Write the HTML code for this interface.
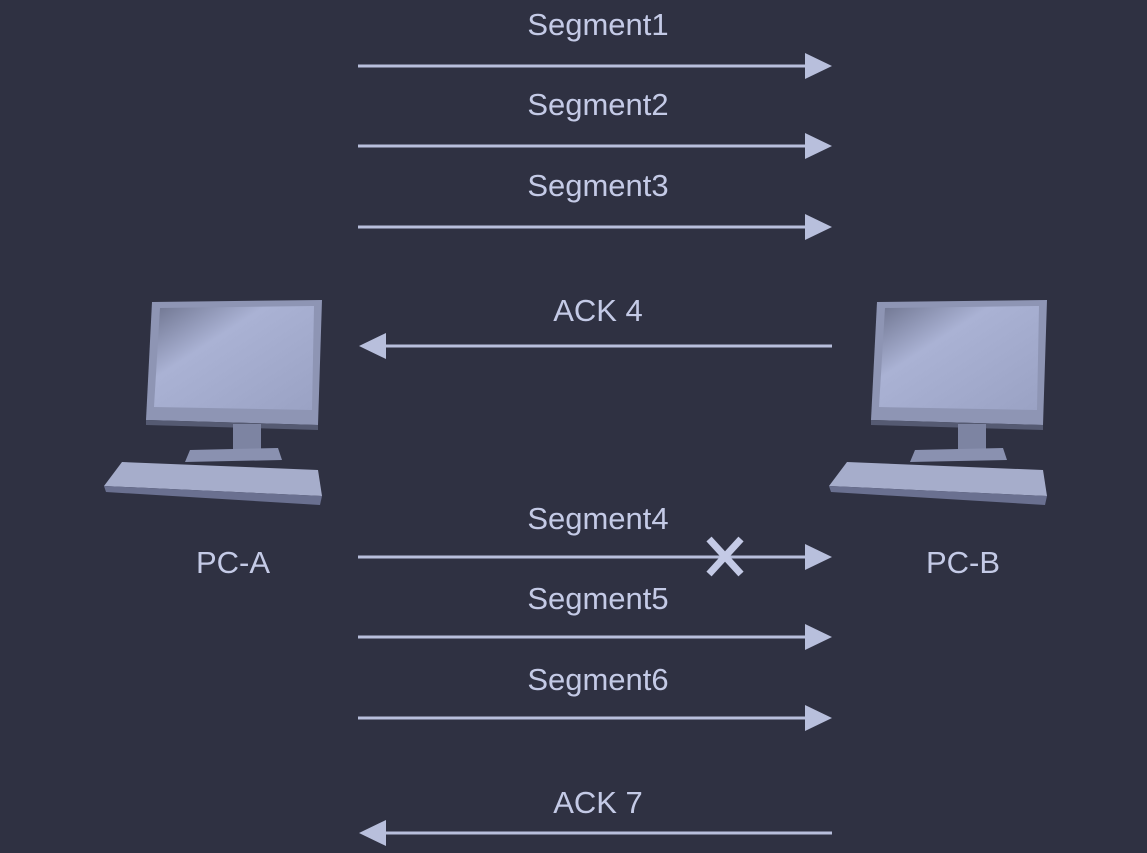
<!DOCTYPE html>
<html><head><style>
html,body{margin:0;padding:0;background:#2f3142;}
svg{display:block}
text{font-family:"Liberation Sans",sans-serif;font-size:31px;fill:#c4cae6;text-anchor:middle}
</style></head><body>
<svg width="1147" height="853" viewBox="0 0 1147 853">
<defs>
<linearGradient id="scr" x1="0" y1="0" x2="1" y2="1">
<stop offset="0" stop-color="#6f7590"/><stop offset="0.35" stop-color="#aab2d4"/><stop offset="1" stop-color="#9aa2c4"/>
</linearGradient>
<g id="pc">
<polygon points="152,302 322,300 318,425 146,420" fill="#8e95b4"/>
<polygon points="160,308 314,306 312,410 154,407" fill="url(#scr)"/>
<polygon points="146,420 318,425 318,430 146,425" fill="#555a72"/>
<rect x="233" y="424" width="28" height="26" fill="#7d84a2"/>
<polygon points="190,450 278,448 282,460 185,462" fill="#8a91b0"/>
<polygon points="122,462 318,470 322,496 104,486" fill="#a6adcb"/>
<polygon points="104,486 322,496 320,505 106,492" fill="#6a7090"/>
</g>
<g id="ar"><line x1="358" y1="0" x2="810" y2="0" stroke="#b8bfdc" stroke-width="3"/><polygon points="805,-13 832,0 805,13" fill="#b8bfdc"/></g>
<g id="al"><line x1="380" y1="0" x2="832" y2="0" stroke="#b8bfdc" stroke-width="3"/><polygon points="386,-13 359,0 386,13" fill="#b8bfdc"/></g>
</defs>
<use href="#pc"/>
<use href="#pc" transform="translate(725,0)"/>
<text x="233" y="573">PC-A</text>
<text x="963" y="573">PC-B</text>
<text x="598" y="35">Segment1</text><use href="#ar" y="66"/>
<text x="598" y="115">Segment2</text><use href="#ar" y="146"/>
<text x="598" y="196">Segment3</text><use href="#ar" y="227"/>
<text x="598" y="321">ACK 4</text><use href="#al" y="346"/>
<text x="598" y="529">Segment4</text><use href="#ar" y="557"/>
<text x="598" y="609">Segment5</text><use href="#ar" y="637"/>
<text x="598" y="690">Segment6</text><use href="#ar" y="718"/>
<text x="598" y="813">ACK 7</text><use href="#al" y="833"/>
<g stroke="#c4cae6" stroke-width="7"><line x1="709" y1="539" x2="741" y2="574"/><line x1="741" y1="539" x2="709" y2="574"/></g>
</svg>
</body></html>
